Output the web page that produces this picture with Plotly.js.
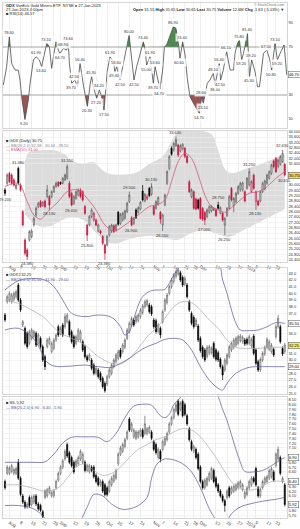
<!DOCTYPE html>
<html><head><meta charset="utf-8">
<script src="https://cdn.plot.ly/plotly-3.0.1.min.js"></script>
<style>html,body{margin:0;padding:0;background:#fff}#chart{width:300px;height:529px}</style>
</head><body><div id="chart"></div>
<script>
// ---------- axis ticks (trading-day index, day 0 = 28-Jul-2022) ----------
const tickDays = [2,7,12,17,22,25,31,36,41,46,51,56,61,67,71,76,81,85,88,95,100,105,109,113,118,122];
const tickText = ["Aug","8","15","22","29","Sep","12","19","26","Oct","10","17","24","Nov","7","14","21","28","Dec","12","19","27","2023","9","17","23"];

// ---------- panel 1 : oscillator ----------
const oscX = [-0.75,0.75,1.95,3.0,4.5,6.0,6.76,7.5,9.0,10.5,11.3,12.8,14.0,15.5,16.5,17.3,18.8,20.0,21.0,21.8,23.0,24.0,24.8,26.3,27.8,28.5,29.0,30.0,31.5,32.6,33.8,35.3,36.5,37.1,38.3,39.0,39.8,41.3,42.5,43.5,44.6,45.5,46.1,47.3,48.8,49.5,50.3,51.8,53.0,54.8,55.9,57.1,58.1,59.3,60.8,62.3,63.1,63.8,65.3,66.8,67.6,68.3,69.8,71.0,71.8,72.8,74.3,75.8,77.0,78.1,78.8,80.0,81.1,82.1,83.3,84.8,86.6,87.5,88.6,89.3,90.1,91.1,92.3,93.8,94.6,95.3,96.5,97.1,98.3,99.8,101.4,102.9,103.6,104.7,105.6,106.6,107.4,109.2,110.1,111.1,112.6,113.7,114.6,116.4,117.9,119.1,120.1,121.6,122.7,123.9,125.7,126.9];
const oscY = [38.3,53.6,78.6,56.4,50.8,50.8,42.5,28.6,9.2,25.8,39.7,59.2,61.9,59.2,53.6,60.6,73.1,70.3,52.2,61.9,74.4,67.5,64.7,68.9,67.5,73.6,56.4,39.7,42.5,36.9,56.4,38.3,25.8,20.3,38.3,45.3,36.9,27.2,34.2,28.6,17.5,39.7,50.8,61.9,57.8,49.4,53.6,42.5,53.6,68.9,80.0,59.2,42.5,53.6,64.7,74.4,67.5,55.0,61.9,39.7,53.6,48.1,34.7,50.8,70.3,71.7,78.6,86.9,85.6,73.1,60.6,74.4,63.3,43.9,28.6,23.1,17.5,14.7,28.6,23.1,31.4,39.7,42.5,48.1,38.3,45.3,56.4,42.5,50.8,66.1,50.8,50.8,64.7,73.1,75.8,59.2,64.7,81.4,45.3,59.2,49.4,36.9,36.9,64.7,67.5,60.6,50.8,73.1,59.2,64.7,71.7,46.7];
const oscTicks = [10,30,50,70,90];
const oscUpper = 70, oscLower = 30;

// ---------- panel 2 : main price ----------
const p2Open  = [29.63,30.13,30.88,30.75,30.38,29.75,31.25,30.00,28.00,25.88,25.13,25.88,26.13,27.00,27.75,28.38,28.75,28.45,28.80,29.13,29.13,29.13,29.50,29.88,30.20,30.20,30.13,30.38,30.50,30.13,29.38,28.63,29.00,29.25,29.63,29.50,28.38,27.00,27.00,27.63,27.38,27.38,26.55,26.55,26.13,25.50,25.50,26.25,26.55,26.95,26.63,27.95,27.13,27.38,27.50,28.00,28.75,27.55,27.13,28.13,27.95,28.20,29.55,28.80,28.95,29.75,29.30,28.38,28.25,28.55,27.95,27.00,28.50,30.13,31.25,32.75,32.63,32.95,33.00,32.55,32.70,32.75,32.13,30.25,29.13,29.50,28.95,28.88,29.00,28.25,27.95,27.63,27.95,28.05,28.13,28.13,28.50,27.88,27.88,27.00,27.70,28.25,29.75,28.45,28.75,29.38,29.63,29.63,29.50,29.75,30.00,29.50,30.75,28.75,28.80,28.80,29.50,29.70,30.13,30.50,30.88,31.80,32.00,31.38,31.55,31.75,31.55];
const p2High  = [29.80,30.88,31.00,30.88,30.50,30.13,31.38,30.13,28.13,26.00,25.25,26.63,26.70,27.63,28.40,28.75,28.88,28.80,28.90,30.00,29.25,29.60,30.00,30.25,30.30,30.25,30.60,30.85,31.55,30.30,29.50,29.25,29.60,29.75,29.75,29.60,28.50,27.10,27.75,28.25,28.00,27.50,27.10,26.65,26.25,25.60,26.25,27.00,27.10,27.05,27.10,28.05,27.90,28.00,28.15,28.75,29.50,27.65,27.60,28.25,28.40,28.80,30.00,29.40,29.30,29.85,30.13,28.50,28.85,29.15,28.05,27.85,29.35,31.10,32.25,32.90,33.25,33.63,33.10,33.05,33.15,32.85,32.25,30.38,29.75,29.60,29.05,28.98,29.10,28.35,28.05,28.25,28.48,28.50,28.35,28.25,28.75,28.40,28.00,27.60,28.35,29.25,29.85,29.10,29.48,30.00,30.25,30.25,29.60,30.60,31.25,30.35,30.85,29.60,28.90,29.60,30.25,30.40,30.85,31.10,31.60,31.90,32.10,32.00,32.25,32.63,31.65];
const p2Low   = [29.20,30.00,30.13,30.00,29.88,29.63,30.00,29.50,26.88,24.75,24.38,25.75,26.00,26.88,27.60,28.25,28.30,28.35,28.25,29.00,28.13,29.00,29.40,29.80,29.85,30.00,30.05,30.30,30.40,29.00,28.40,28.50,28.90,29.15,29.00,28.75,27.75,25.80,26.90,27.50,27.25,26.90,26.45,26.30,25.50,24.38,25.40,26.13,26.40,26.40,26.50,26.95,27.00,27.25,27.40,27.90,28.65,26.90,27.00,27.45,27.85,28.10,28.75,28.70,28.85,29.10,29.20,27.70,28.15,28.45,27.10,26.55,28.40,30.00,31.10,32.20,32.50,32.85,32.10,32.45,32.60,32.00,31.60,29.40,29.00,28.13,28.10,28.15,27.40,27.30,27.00,27.50,27.85,27.95,28.05,27.60,28.15,27.80,27.25,26.25,27.60,28.15,28.75,27.95,28.65,29.25,29.50,29.50,28.70,29.65,29.90,29.40,29.65,28.13,28.40,28.70,29.40,29.60,30.00,30.40,30.75,31.25,30.90,31.25,31.45,31.65,30.65];
const p2Close = [29.38,30.75,30.25,30.13,30.00,30.00,30.13,29.63,27.00,24.88,24.63,26.50,26.55,27.50,28.25,28.63,28.38,28.70,28.38,29.63,28.50,29.50,29.88,30.13,29.95,30.10,30.50,30.75,31.38,29.13,28.50,29.13,29.50,29.63,29.13,28.88,27.88,26.25,27.63,28.13,27.88,27.00,27.00,26.40,25.63,24.88,26.13,26.88,27.00,26.50,27.00,27.05,27.80,27.88,28.05,28.63,29.25,27.00,27.50,27.55,28.30,28.70,28.88,29.30,29.13,29.20,29.88,27.80,28.75,29.05,27.45,27.75,29.25,31.00,32.13,32.30,33.13,33.38,32.25,32.95,33.05,32.13,31.70,29.50,29.63,28.25,28.20,28.25,27.50,27.45,27.38,28.13,28.38,28.40,28.25,27.70,28.25,28.30,27.38,27.50,28.25,29.13,28.88,29.00,29.38,29.88,30.13,30.15,28.80,30.50,31.00,30.25,29.75,29.50,28.50,29.50,30.13,30.30,30.75,31.00,31.50,31.38,31.00,31.88,32.13,32.38,30.75];
const p2BandUpX = [9,11,16,22,27,30,35,40,44,48,55,60,65,70,73,76,79,86,93,96,99,103,108,114,120,126];
const p2BandUp  = [31.8,32.5,32.6,32.6,32.3,31.8,31.6,31.7,31.1,30.8,30.8,31.0,31.6,32.0,32.6,33.6,34.1,34.1,33.8,32.6,31.2,30.9,31.2,31.5,31.9,32.3];
const p2BandLoX = [9,14,20,26,31,36,40,45,50,55,60,66,72,78,84,90,96,101,106,112,118,126];
const p2BandLo  = [27.8,27.0,26.9,27.4,27.6,27.3,26.6,25.8,25.6,25.9,26.1,26.2,26.0,25.9,26.4,26.6,26.3,26.1,26.5,27.0,27.5,28.2];
const p2EmaX = [0,6,10,13,16,20,24,28,33,37,41,45,49,53,57,61,65,69,72,75,78,81,84,87,90,93,96,99,102,106,110,114,118,122,126];
const p2Ema  = [29.88,30.13,28.75,27.75,27.45,28.13,28.75,29.5,29.63,29.0,28.13,27.0,26.55,26.88,27.38,27.88,28.38,28.55,28.88,30.25,31.75,32.38,32.0,30.75,29.25,28.38,28.13,27.95,28.3,28.88,29.38,29.5,29.88,30.5,31.0];

// ---------- panel 3 ----------
const p3Open  = [36.75,38.75,39.0,38.75,39.1,39.5,41.25,39.0,35.25,34.75,34.0,32.5,33.25,33.5,34.0,32.5,33.25,32.0,30.5,32.0,32.5,31.25,31.75,33.0,35.0,34.0,35.25,35.0,35.75,35.75,34.25,33.5,32.5,33.0,33.0,32.75,32.0,30.5,30.1,30.0,29.25,28.0,28.5,28.0,27.25,26.5,26.4,27.5,28.0,29.0,29.75,30.25,31.5,31.25,31.9,33.25,34.25,35.25,36.0,35.75,35.9,36.5,37.1,38.0,38.25,38.25,38.0,36.0,35.9,34.25,34.75,35.75,37.5,38.6,40.0,41.0,41.75,42.5,42.9,43.1,42.4,41.4,41.25,38.75,37.0,36.4,35.25,35.1,33.25,31.9,31.5,30.5,31.0,31.1,32.5,31.5,31.1,30.1,29.0,28.5,29.5,30.5,31.5,31.9,32.25,32.5,32.9,32.75,33.0,33.1,32.5,32.1,33.6,31.5,29.75,28.5,30.0,30.9,31.9,31.6,31.25,31.6,33.5,35.0,35.0,31.75,31.25];
const p3High  = [37.05,39.8,40.3,40.05,40.3,40.55,41.55,39.3,36.0,35.05,34.3,34.55,34.8,34.55,34.3,34.05,33.55,32.3,30.8,33.3,33.55,32.8,33.3,34.05,35.3,35.05,35.55,37.0,37.05,36.05,34.55,33.8,33.8,34.8,34.55,33.05,32.3,30.8,31.05,30.3,29.55,29.05,28.8,28.3,27.55,26.8,27.8,28.8,29.55,30.3,31.05,31.55,31.8,32.55,33.3,34.8,35.8,36.55,36.3,36.8,37.05,37.8,38.4,39.05,39.2,38.55,38.3,36.3,36.2,35.55,35.05,37.55,39.3,40.05,41.3,42.3,43.05,43.55,43.8,43.4,42.7,42.55,41.55,39.05,37.3,36.7,36.3,35.4,33.55,32.2,31.8,32.2,32.3,32.05,32.8,31.8,31.4,30.4,29.3,30.3,31.05,32.3,32.8,33.3,33.55,33.8,33.9,33.7,33.3,33.4,33.8,33.4,33.9,31.8,30.05,30.4,31.3,32.2,33.4,33.05,32.55,31.9,35.3,36.75,35.3,32.05,32.55];
const p3Low   = [35.7,38.45,38.7,38.45,38.8,39.2,38.7,37.2,34.95,32.2,31.7,32.2,32.95,33.2,31.95,32.2,31.7,29.7,28.5,31.7,32.2,30.95,31.45,32.7,33.45,33.7,33.45,34.7,35.45,33.45,32.45,31.7,32.2,32.7,32.7,31.2,30.2,29.7,29.8,28.45,27.7,27.7,27.2,26.7,25.7,25.1,26.1,27.2,27.7,28.7,29.45,29.95,30.2,30.95,31.6,32.95,33.95,34.95,34.95,35.45,35.6,36.2,36.8,37.7,37.95,36.95,36.6,34.7,33.95,33.95,33.25,35.45,37.2,38.3,39.7,40.7,41.45,42.2,42.6,41.7,40.95,41.1,39.2,37.2,35.2,34.7,34.95,32.7,31.1,30.2,29.7,30.2,30.7,30.8,30.2,29.8,29.7,28.7,27.0,28.2,29.2,30.2,31.2,31.6,31.95,32.2,32.6,32.45,32.1,32.2,32.2,31.8,30.7,29.2,28.2,28.2,29.7,30.6,31.6,31.3,30.95,30.45,33.2,34.7,32.45,30.6,30.95];
const p3Close = [36.0,39.5,40.0,39.75,40.0,40.25,39.0,37.5,35.75,32.5,32.0,34.25,34.5,34.25,32.25,33.75,32.0,30.0,29.0,33.0,33.25,32.5,33.0,33.75,33.75,34.75,33.75,36.5,36.75,33.75,32.75,32.0,33.5,34.5,34.25,31.5,30.5,30.0,30.75,28.75,28.0,28.75,27.5,27.0,26.0,25.4,27.5,28.5,29.25,30.0,30.75,31.25,30.5,32.25,33.0,34.5,35.5,36.25,35.25,36.5,36.75,37.5,38.1,38.75,38.9,37.25,36.9,35.0,34.25,35.25,33.75,37.25,39.0,39.75,41.0,42.0,42.75,43.25,43.5,42.0,41.25,42.25,39.5,37.5,35.5,35.0,36.0,33.0,31.4,30.5,30.0,31.9,32.0,31.75,30.5,30.1,30.0,29.0,27.75,30.0,30.75,32.0,32.5,33.0,33.25,33.5,33.6,33.4,32.4,32.5,33.5,33.1,31.0,29.5,28.5,30.1,31.0,31.9,33.1,32.75,32.25,30.75,35.0,36.25,32.75,30.9,32.25];
const p3BandX3U = [0,6,12,18,22,26,30,36,42,48,52,54,56,58,62,66,70,72,74,76,78,80,88,96,98,100,102,104,106,110,114,118,122,126];
const p3Upper   = [40.5,41.9,42.2,42.0,41.0,39.0,37.0,36.5,36.75,36.4,35.0,33.75,34.25,36.25,39.5,40.4,40.5,40.6,41.5,42.75,43.75,45.0,47.0,45.0,42.0,40.0,37.5,35.5,34.5,34.4,34.5,35.0,35.6,35.5];
const p3BandX3M = [0,6,12,18,24,30,36,42,48,52,56,60,64,68,72,76,80,84,88,92,96,100,104,108,114,120,126];
const p3Middle  = [39.0,38.5,37.5,36.25,34.25,33.25,32.25,30.5,29.5,29.4,30.25,31.75,33.5,34.75,36.25,38.0,38.75,38.6,37.5,36.0,34.75,33.0,31.9,31.75,31.75,31.9,31.9];
const p3BandX3L = [0,6,12,16,18,22,30,36,42,48,52,56,60,64,68,72,76,80,84,88,92,96,98,100,104,110,116,122,126];
const p3Lower   = [34.5,34.75,33.5,31.5,30.0,29.1,29.1,29.25,29.0,28.9,29.5,30.25,31.25,32.0,32.5,33.1,33.25,33.0,31.5,29.0,27.0,25.75,25.5,26.5,28.0,28.9,29.0,29.0,29.0];

// ---------- panel 4 ----------
const p4Open  = [6.40,6.57,6.57,6.61,6.57,6.57,6.80,6.47,6.10,5.97,5.87,6.07,5.92,5.97,6.10,5.93,5.90,5.77,6.07,6.10,6.17,6.10,6.10,6.27,6.43,6.57,6.70,6.87,7.17,7.00,6.90,6.80,6.73,6.77,6.87,6.80,6.80,6.63,6.60,6.70,6.70,6.53,6.47,6.33,6.40,6.33,6.27,6.20,6.33,6.41,6.47,6.77,6.97,7.03,7.13,7.30,7.70,7.47,7.33,7.30,7.33,7.37,7.47,7.40,7.40,7.43,7.43,7.23,7.17,6.90,7.03,7.07,7.17,7.27,7.43,7.60,7.73,7.87,8.07,7.90,8.07,8.00,7.77,7.50,7.23,7.03,7.07,6.97,6.70,6.40,6.27,6.33,6.43,6.47,6.63,6.47,6.33,6.20,6.10,6.00,6.07,6.27,6.17,6.20,6.23,6.27,6.30,6.23,6.07,6.13,6.27,6.33,6.47,6.67,6.27,6.10,6.27,6.37,6.40,6.47,6.50,6.60,6.73,6.87,6.90,6.40,6.33];
const p4High  = [6.44,6.74,6.72,6.77,6.69,6.71,6.87,6.51,6.14,6.01,5.97,6.11,6.11,6.14,6.14,5.97,5.94,5.81,6.24,6.27,6.31,6.21,6.24,6.44,6.61,6.74,6.87,7.07,7.21,7.04,6.94,6.84,6.87,6.94,7.07,7.01,6.84,6.77,6.77,6.74,6.74,6.57,6.51,6.44,6.44,6.37,6.31,6.44,6.51,6.57,6.67,7.01,7.14,7.21,7.31,7.47,7.74,7.64,7.51,7.47,7.47,7.51,7.51,7.77,7.54,7.57,7.47,7.27,7.21,7.11,7.07,7.27,7.34,7.44,7.64,7.77,7.94,8.04,8.11,8.07,8.11,8.04,7.81,7.54,7.27,7.17,7.11,7.01,6.74,6.44,6.47,6.51,6.61,6.71,6.67,6.51,6.37,6.24,6.14,6.04,6.24,6.31,6.31,6.34,6.37,6.41,6.44,6.37,6.21,6.31,6.44,6.51,6.51,6.71,6.31,6.27,6.44,6.51,6.54,6.67,6.71,6.64,7.01,7.13,6.94,6.51,6.37];
const p4Low   = [6.23,6.53,6.53,6.57,6.53,6.53,6.43,6.09,5.93,5.83,5.83,5.86,5.88,5.93,5.89,5.79,5.76,5.63,6.03,6.06,6.13,6.06,6.06,6.23,6.39,6.53,6.66,6.83,6.89,6.76,6.69,6.56,6.69,6.73,6.83,6.76,6.59,6.59,6.56,6.59,6.46,6.36,6.29,6.29,6.16,6.09,6.09,6.16,6.29,6.37,6.43,6.73,6.93,6.99,7.09,7.26,7.43,7.43,7.29,7.26,7.29,7.33,7.29,7.36,7.36,7.39,7.26,7.03,6.96,6.86,6.80,7.03,7.13,7.23,7.39,7.56,7.69,7.83,7.76,7.86,7.73,7.76,7.56,7.23,7.03,6.99,6.86,6.63,6.36,6.23,6.23,6.29,6.39,6.43,6.36,6.26,6.16,6.06,5.96,5.77,6.03,6.06,6.13,6.16,6.19,6.23,6.26,6.19,6.03,6.09,6.23,6.29,6.36,6.29,6.06,6.06,6.23,6.33,6.36,6.43,6.46,6.39,6.69,6.83,6.53,6.36,5.88];
const p4Close = [6.27,6.70,6.68,6.73,6.65,6.67,6.47,6.13,5.97,5.87,5.93,5.90,6.07,6.10,5.93,5.83,5.80,5.67,6.20,6.23,6.27,6.17,6.20,6.40,6.57,6.70,6.83,7.03,6.93,6.80,6.73,6.60,6.83,6.90,7.03,6.97,6.63,6.73,6.73,6.63,6.50,6.40,6.33,6.40,6.20,6.13,6.13,6.40,6.47,6.53,6.63,6.97,7.10,7.17,7.27,7.43,7.47,7.60,7.47,7.43,7.43,7.47,7.33,7.60,7.50,7.53,7.30,7.07,7.00,7.07,6.87,7.23,7.30,7.40,7.60,7.73,7.90,8.00,7.80,8.03,7.77,7.80,7.60,7.27,7.07,7.13,6.90,6.67,6.40,6.27,6.43,6.47,6.57,6.67,6.40,6.30,6.20,6.10,6.00,5.90,6.20,6.10,6.27,6.30,6.33,6.37,6.40,6.33,6.17,6.27,6.40,6.47,6.40,6.33,6.10,6.23,6.40,6.47,6.50,6.63,6.67,6.43,6.97,7.07,6.57,6.47,5.92];
const p4BandXU = [0,6,12,18,22,26,30,36,42,46,50,54,58,62,66,70,72,74,76,78,80,82,86,90,94,96,98,100,102,104,106,108,112,116,120,124,126];
const p4Upper  = [6.80,6.80,6.80,6.81,6.97,7.20,7.32,7.33,7.32,7.23,7.40,7.73,7.97,8.01,7.99,7.77,7.73,7.80,8.00,8.10,8.20,8.30,8.40,8.47,8.33,8.17,7.90,7.67,7.37,7.07,6.80,6.61,6.60,6.63,6.73,6.85,6.90];
const p4BandXM = [0,6,12,18,24,28,32,36,40,44,48,52,56,60,64,68,72,76,80,84,88,92,96,100,104,108,112,116,120,126];
const p4Middle = [6.33,6.33,6.27,6.20,6.27,6.47,6.70,6.77,6.63,6.53,6.57,6.70,6.90,7.07,7.17,7.27,7.33,7.43,7.50,7.47,7.33,7.10,6.83,6.53,6.30,6.23,6.23,6.30,6.40,6.40];
const p4BandXL = [0,6,12,16,18,20,26,30,34,37,40,44,48,52,56,60,64,66,68,70,72,76,80,84,88,92,94,96,100,102,106,110,116,122,126];
const p4Lower  = [5.90,5.90,5.85,5.73,5.63,5.57,5.47,5.47,5.60,5.87,6.13,6.10,5.93,5.83,5.83,5.90,6.07,6.47,6.73,6.83,6.87,6.85,6.77,6.60,6.27,5.83,5.67,5.53,5.60,5.73,5.87,5.93,5.99,6.03,6.07];

// ---------- build ----------
const N = p2Close.length;
const days = p2Close.map((_, i) => i);
const FONT = "Liberation Sans, Arial, sans-serif";
const XR = [-0.9, 127.0];

function clip(xs, ys, level, above) {
  const ox = [], oy = [];
  for (let i = 0; i < xs.length; i++) {
    if (i > 0) {
      const a = ys[i-1] - level, b = ys[i] - level;
      if (a * b < 0) { const t = a / (a - b); ox.push(xs[i-1] + t * (xs[i] - xs[i-1])); oy.push(level); }
    }
    ox.push(xs[i]); oy.push(above ? Math.max(ys[i], level) : Math.min(ys[i], level));
  }
  return [ox, oy];
}
const [gx, gy] = clip(oscX, oscY, oscUpper, true);
const [rx, ry] = clip(oscX, oscY, oscLower, false);

function curve(xs, ys, start) {
  let s = start ? `M${xs[0]},${ys[0]}` : `L${xs[0]},${ys[0]}`;
  const n = xs.length;
  for (let i = 0; i < n - 1; i++) {
    const x0 = xs[Math.max(i - 1, 0)], y0 = ys[Math.max(i - 1, 0)];
    const x3 = xs[Math.min(i + 2, n - 1)], y3 = ys[Math.min(i + 2, n - 1)];
    const c1x = xs[i] + (xs[i+1] - x0) / 6, c1y = ys[i] + (ys[i+1] - y0) / 6;
    const c2x = xs[i+1] - (x3 - xs[i]) / 6, c2y = ys[i+1] - (y3 - ys[i]) / 6;
    s += ` C${c1x},${c1y} ${c2x},${c2y} ${xs[i+1]},${ys[i+1]}`;
  }
  return s;
}
const bandPath = curve(p2BandUpX, p2BandUp, true) + ' ' +
  curve(p2BandLoX.slice().reverse(), p2BandLo.slice().reverse(), false) + ' Z';

const traces = [];
traces.push({x: gx, y: gx.map(() => oscUpper), mode: 'lines', line: {width: 0}, xaxis: 'x', yaxis: 'y', hoverinfo: 'skip'});
traces.push({x: gx, y: gy, mode: 'lines', line: {width: 0}, fill: 'tonexty', fillcolor: '#4f8a4f', xaxis: 'x', yaxis: 'y', hoverinfo: 'skip'});
traces.push({x: rx, y: rx.map(() => oscLower), mode: 'lines', line: {width: 0}, xaxis: 'x', yaxis: 'y', hoverinfo: 'skip'});
traces.push({x: rx, y: ry, mode: 'lines', line: {width: 0}, fill: 'tonexty', fillcolor: '#9a5454', xaxis: 'x', yaxis: 'y', hoverinfo: 'skip'});
traces.push({x: oscX, y: oscY, mode: 'lines', line: {color: '#4a4a4a', width: 0.8}, xaxis: 'x', yaxis: 'y'});

function split(O, H, L, C) {
  const red = {x: [], open: [], high: [], low: [], close: []}, blk = {x: [], open: [], high: [], low: [], close: []};
  for (let i = 0; i < C.length; i++) {
    const g = (i > 0 && C[i] < C[i-1]) ? red : blk;
    g.x.push(i); g.open.push(O[i]); g.high.push(H[i]); g.low.push(L[i]); g.close.push(C[i]);
  }
  return [red, blk];
}
const [r2, b2] = split(p2Open, p2High, p2Low, p2Close);
traces.push(Object.assign({type: 'candlestick', xaxis: 'x2', yaxis: 'y2', whiskerwidth: 0,
  increasing: {line: {color: '#c8143c', width: 0.7}, fillcolor: '#ffffff'},
  decreasing: {line: {color: '#c8143c', width: 0.7}, fillcolor: '#c8143c'}}, r2));
traces.push(Object.assign({type: 'candlestick', xaxis: 'x2', yaxis: 'y2', whiskerwidth: 0,
  increasing: {line: {color: '#555555', width: 0.7}, fillcolor: '#ffffff'},
  decreasing: {line: {color: '#000000', width: 0.7}, fillcolor: '#000000'}}, b2));
traces.push({x: p2EmaX, y: p2Ema, mode: 'lines', line: {color: '#d05a78', width: 0.8, shape: 'spline'}, xaxis: 'x2', yaxis: 'y2'});

const bandBlue = '#55558f';
traces.push({x: p3BandX3U, y: p3Upper, mode: 'lines', line: {color: bandBlue, width: 0.7, shape: 'spline'}, xaxis: 'x3', yaxis: 'y3'});
traces.push({x: p3BandX3M, y: p3Middle, mode: 'lines', line: {color: '#aaaaaa', width: 0.7, shape: 'spline'}, xaxis: 'x3', yaxis: 'y3'});
traces.push({x: p3BandX3L, y: p3Lower, mode: 'lines', line: {color: bandBlue, width: 0.7, shape: 'spline'}, xaxis: 'x3', yaxis: 'y3'});
traces.push({type: 'candlestick', x: days, open: p3Open, high: p3High, low: p3Low, close: p3Close, xaxis: 'x3', yaxis: 'y3', whiskerwidth: 0,
  increasing: {line: {color: '#666666', width: 0.7}, fillcolor: '#ffffff'},
  decreasing: {line: {color: '#000000', width: 0.7}, fillcolor: '#000000'}});

traces.push({x: p4BandXU, y: p4Upper, mode: 'lines', line: {color: bandBlue, width: 0.7, shape: 'spline'}, xaxis: 'x4', yaxis: 'y4'});
traces.push({x: p4BandXM, y: p4Middle, mode: 'lines', line: {color: '#aaaaaa', width: 0.7, shape: 'spline'}, xaxis: 'x4', yaxis: 'y4'});
traces.push({x: p4BandXL, y: p4Lower, mode: 'lines', line: {color: bandBlue, width: 0.7, shape: 'spline'}, xaxis: 'x4', yaxis: 'y4'});
traces.push({type: 'candlestick', x: days, open: p4Open, high: p4High, low: p4Low, close: p4Close, xaxis: 'x4', yaxis: 'y4', whiskerwidth: 0,
  increasing: {line: {color: '#666666', width: 0.7}, fillcolor: '#ffffff'},
  decreasing: {line: {color: '#000000', width: 0.7}, fillcolor: '#000000'}});

// ---------- annotations ----------
const ann = [];
const small = {family: FONT, size: 4, color: '#333'};
// oscillator turning-point labels, skipping ones that would collide (approx. pixel space)
const placed = [];
for (let i = 1; i < oscY.length - 1; i++) {
  const up = oscY[i] > oscY[i-1] && oscY[i] > oscY[i+1];
  const dn = oscY[i] < oscY[i-1] && oscY[i] < oscY[i+1];
  if (!(up || dn)) continue;
  const px = oscX[i] * 2.22, py = -oscY[i] * 1.2 + (up ? -4 : 4);
  if (placed.some(p => Math.abs(p[0] - px) < 10 && Math.abs(p[1] - py) < 5)) continue;
  placed.push([px, py]);
  ann.push({xref: 'x', yref: 'y', x: oscX[i], y: oscY[i], text: oscY[i].toFixed(2), showarrow: false,
    yshift: up ? 4 : -4, font: small, bgcolor: 'rgba(255,255,255,0.8)'});
}
const W = 4;
for (let i = 0; i < N; i++) {
  let isHi = true, isLo = true;
  for (let j = Math.max(0, i - W); j <= Math.min(N - 1, i + W); j++) {
    if (j === i) continue;
    if (p2High[j] >= p2High[i]) isHi = false;
    if (p2Low[j] <= p2Low[i]) isLo = false;
  }
  if (isHi) ann.push({xref: 'x2', yref: 'y2', x: i, y: p2High[i], text: p2High[i].toFixed(3), showarrow: false, yshift: 4, font: small});
  if (isLo) ann.push({xref: 'x2', yref: 'y2', x: i, y: p2Low[i], text: p2Low[i].toFixed(3), showarrow: false, yshift: -4, font: small});
}
const boxes = {y: [], y2: [], y3: [], y4: []};
function box(yref, y, text, bg) {
  boxes[yref].push(y);
  ann.push({xref: 'paper', yref: yref, x: 1, y: y, xanchor: 'left', xshift: 1, text: text, showarrow: false,
    font: {family: FONT, size: 4, color: '#000'}, bgcolor: bg, bordercolor: '#555', borderwidth: 0.5, borderpad: 0.5});
}
box('y', oscY[oscY.length - 1], oscY[oscY.length - 1].toFixed(2), '#ffffff');
box('y2', p2Close[N - 1], p2Close[N - 1].toFixed(3), '#f6d36b');
box('y3', p3Upper[p3Upper.length - 1], p3Upper[p3Upper.length - 1].toFixed(2), '#ffffff');
box('y3', p3Close[N - 1], p3Close[N - 1].toFixed(2), '#f3e97a');
box('y3', p3Lower[p3Lower.length - 1], p3Lower[p3Lower.length - 1].toFixed(2), '#ffffff');
box('y4', p4Upper[p4Upper.length - 1], p4Upper[p4Upper.length - 1].toFixed(2), '#ffffff');
box('y4', p4Middle[p4Middle.length - 1], p4Middle[p4Middle.length - 1].toFixed(2), '#ffffff');
box('y4', p4Close[N - 1], p4Close[N - 1].toFixed(2), '#ffffff');

function ticks(lo, hi, step, near, gap) {
  const out = [];
  for (let v = Math.ceil(lo / step) * step; v <= hi + 1e-9; v += step) {
    const r = Math.round(v * 1000) / 1000;
    if (!near.some(b => Math.abs(b - r) < gap)) out.push(r);
  }
  return out;
}

function txt(x, y, text, opts) {
  ann.push(Object.assign({xref: 'paper', yref: 'paper', x: x, y: y, xanchor: 'left', yanchor: 'top', text: text,
    showarrow: false, align: 'left', font: {family: FONT, size: 4, color: '#222'}}, opts || {}));
}
txt(0.005, 0.999, '<b>GDX</b> VanEck Gold Miners ETF  NYSE ● 27-Jan-2023');
txt(0.005, 0.991, '27-Jan-2023 4:00pm');
txt(0.005, 0.983, '■ RSI(14) 46.57');
txt(0.995, 0.999, '© StockCharts.com', {xanchor: 'right', font: {family: FONT, size: 3.5, color: '#777'}});
txt(0.995, 0.991, '<b>Open</b> 31.55 <b>High</b> 31.65 <b>Low</b> 30.65 <b>Last</b> 30.75 <b>Volume</b> 12.6M <b>Chg</b> -1.63 (-5.03%) ▼', {xanchor: 'right'});
txt(0.005, 0.742, '■ GDX (Daily) 30.75');
txt(0.005, 0.734, '— BB(20,2.0) 32.38 - 30.44 - 28.50', {font: {family: FONT, size: 4, color: '#888'}});
txt(0.005, 0.726, '— EMA(10) 31.00', {font: {family: FONT, size: 4, color: '#d05a78'}});
txt(0.005, 0.489, '■ GDXJ 32.25');
txt(0.005, 0.481, '— BB(20,2.0) 35.50 - 31.90 - 29.00', {font: {family: FONT, size: 4, color: '#55558f'}});
txt(0.005, 0.247, '■ SIL 5.92');
txt(0.005, 0.239, '— BB(20,2.0) 6.90 - 6.40 - 5.90', {font: {family: FONT, size: 4, color: '#55558f'}});

// ---------- layout ----------
function xax(anchor, labels) {
  return {domain: [0, 1], anchor: anchor, range: XR, tickvals: tickDays, ticktext: tickText, showticklabels: labels,
    tickfont: {family: FONT, size: 4.3, color: '#333'}, ticks: '', showgrid: true, gridcolor: '#e3e3e3', gridwidth: 0.6,
    zeroline: false, showline: true, linecolor: '#bbbbbb', linewidth: 0.6, mirror: true,
    rangeslider: {visible: false}, fixedrange: true};
}
function yax(anchor, domain, range, extra) {
  return Object.assign({domain: domain, anchor: anchor, range: range, side: 'right', ticks: '',
    tickfont: {family: FONT, size: 4, color: '#333'}, showgrid: true, gridcolor: '#ececec', gridwidth: 0.6,
    zeroline: false, showline: true, linecolor: '#bbbbbb', linewidth: 0.6, mirror: true, fixedrange: true}, extra);
}
const H = 529;
const dom = (top, bot) => [(H - bot) / H, (H - top) / H];
const layout = {
  width: 300, height: 529, margin: {l: 3, r: 13, t: 0, b: 0}, showlegend: false,
  paper_bgcolor: '#ffffff', plot_bgcolor: '#ffffff', hovermode: false,
  font: {family: FONT, size: 4},
  xaxis: xax('y', false), xaxis2: xax('y2', true), xaxis3: xax('y3', false), xaxis4: xax('y4', true),
  yaxis: yax('x', dom(3, 128), [2.5, 106.7], {tickvals: oscTicks.filter(v => !boxes.y.some(b => Math.abs(b - v) < 4)), showgrid: false}),
  yaxis2: yax('x2', dom(131, 262), [24.225, 34.05], {tickvals: ticks(24.225, 34.05, 0.4, boxes.y2, 0.5), tickformat: '.3f'}),
  yaxis3: yax('x3', dom(268, 394), [24.9, 43.8], {tickvals: ticks(24.9, 43.8, 1, boxes.y3, 0.8), tickformat: '.1f'}),
  yaxis4: yax('x4', dom(397, 518), [5.64, 8.16], {tickvals: ticks(5.64, 8.16, 0.1, boxes.y4, 0.1), tickformat: '.2f'}),
  shapes: [
    {type: 'path', xref: 'x2', yref: 'y2', path: bandPath, fillcolor: '#dcdcdc', line: {width: 0}, layer: 'below'},
    {type: 'line', xref: 'x domain', yref: 'y', x0: 0, x1: 1, y0: oscUpper, y1: oscUpper, line: {color: '#8a8a8a', width: 0.8}},
    {type: 'line', xref: 'x domain', yref: 'y', x0: 0, x1: 1, y0: oscLower, y1: oscLower, line: {color: '#8a8a8a', width: 0.8}}
  ],
  annotations: ann
};
Plotly.newPlot('chart', traces, layout, {staticPlot: true, displayModeBar: false});
</script>
</body></html>
